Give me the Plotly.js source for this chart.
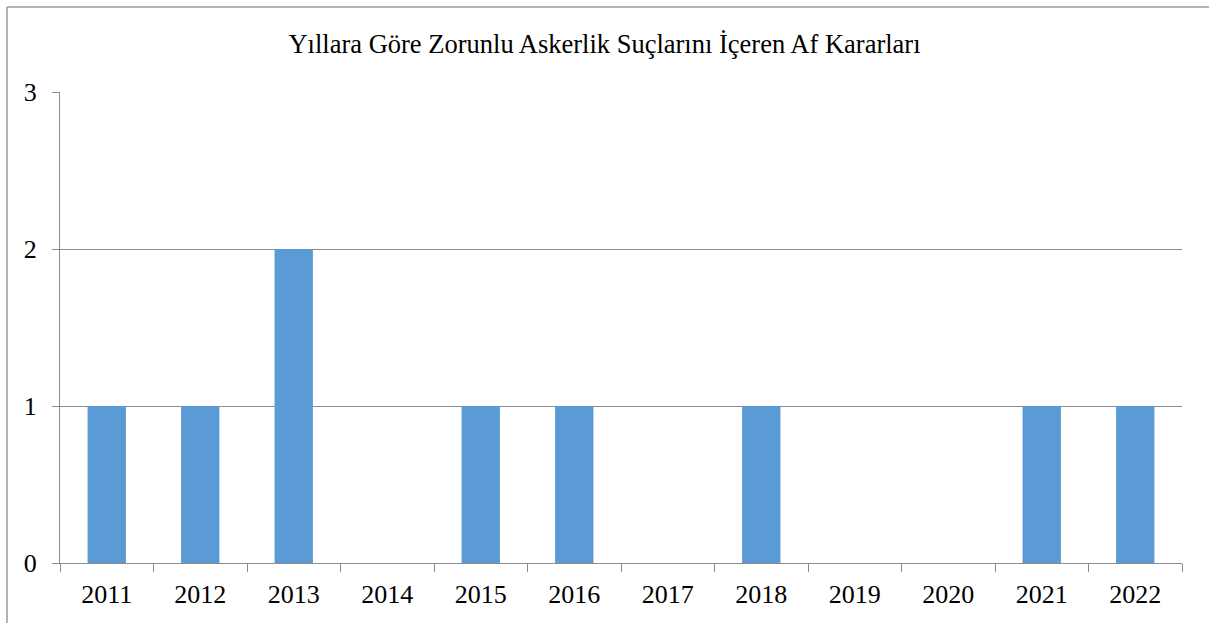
<!DOCTYPE html>
<html>
<head>
<meta charset="utf-8">
<script src="https://cdn.plot.ly/plotly-3.0.1.min.js"></script>
<style>html,body{margin:0;padding:0;background:#fff;}#chart{width:1209px;height:623px;}</style>
</head>
<body>
<div id="chart"></div>
<script>
const years = ["2011","2012","2013","2014","2015","2016","2017","2018","2019","2020","2021","2022"];
const counts = [1, 1, 2, 0, 1, 1, 0, 1, 0, 0, 1, 1];
const yTicks = [0, 1, 2, 3];
const titleText = "Yıllara Göre Zorunlu Askerlik Suçlarını İçeren Af Kararları";

const serif = "'Liberation Serif', 'Times New Roman', serif";
const gray = "#8c8c8c";
const trace = {
  type: "bar",
  x: years,
  y: counts,
  marker: {color: "#5B9BD5"},
  hoverinfo: "x+y"
};
const layout = {
  width: 1209, height: 623,
  margin: {l: 60, r: 27, t: 92, b: 60},
  paper_bgcolor: "#fff", plot_bgcolor: "#fff",
  font: {family: serif, color: "#000", size: 26},
  title: {text: titleText, font: {family: serif, size: 26.5, color: "#000"},
          x: 0.5, xref: "container", y: 1 - 44/623, yref: "container", yanchor: "middle"},
  bargap: 0.59,
  showlegend: false,
  xaxis: {
    type: "category",
    showline: true, linecolor: gray, linewidth: 1,
    ticks: "outside", tickson: "boundaries", ticklen: 8, tickcolor: gray, tickwidth: 1,
    showgrid: false, zeroline: false,
    tickfont: {family: serif, size: 26}, ticklabelstandoff: 8
  },
  yaxis: {
    range: [0, 3], tickvals: yTicks, ticktext: yTicks.map(String),
    showline: true, linecolor: gray, linewidth: 1,
    ticks: "outside", ticklen: 7, tickcolor: gray, tickwidth: 1,
    showgrid: true, gridcolor: gray, gridwidth: 1, zeroline: false,
    tickfont: {family: serif, size: 26}, ticklabelstandoff: 10
  },
  shapes: [
    {type: "line", xref: "paper", yref: "paper", x0: (7-60)/1122, x1: (1215-60)/1122, y0: (563-7)/471, y1: (563-7)/471, line: {color: "#9a9a9a", width: 1.5}},
    {type: "line", xref: "paper", yref: "paper", x0: (7-60)/1122, x1: (7-60)/1122, y0: (563-7)/471, y1: (563-630)/471, line: {color: "#9a9a9a", width: 1.5}}
  ]
};
Plotly.newPlot("chart", [trace], layout, {displayModeBar: false, staticPlot: true});
</script>
</body>
</html>
